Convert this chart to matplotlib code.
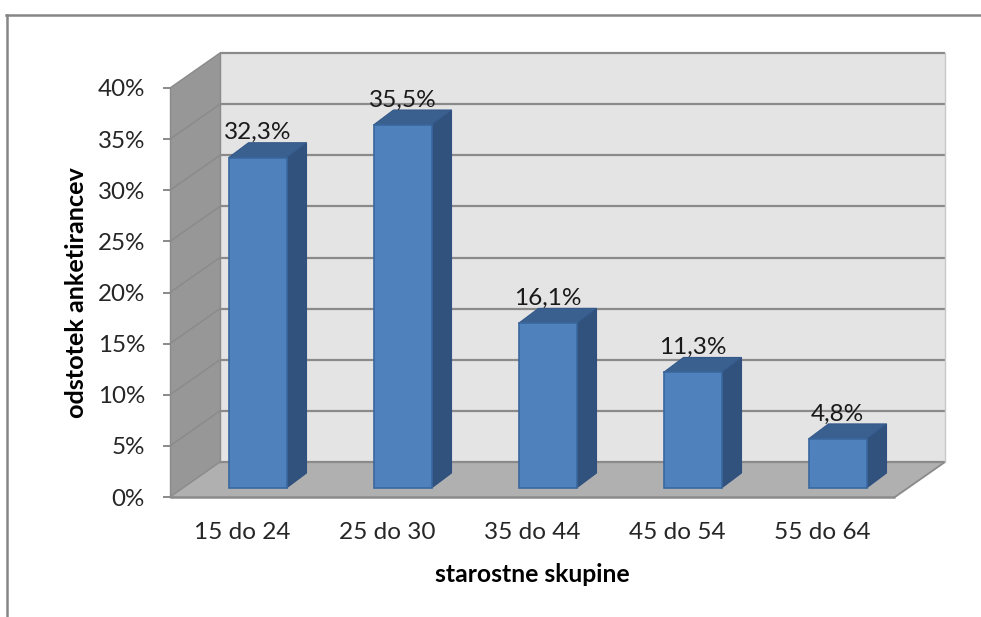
import matplotlib
matplotlib.use("Agg")
import matplotlib.pyplot as plt
from matplotlib.lines import Line2D
from matplotlib.patches import Polygon

categories = ["15 do 24", "25 do 30", "35 do 44", "45 do 54", "55 do 64"]
values = [32.3, 35.5, 16.1, 11.3, 4.8]
value_labels = ["32,3%", "35,5%", "16,1%", "11,3%", "4,8%"]
yticks = [0, 5, 10, 15, 20, 25, 30, 35, 40]

plt.rcParams["font.family"] = ["Lato", "DejaVu Sans"]

W, H = 981, 617
fig = plt.figure(figsize=(W / 100, H / 100), dpi=100, facecolor="white")
ax = fig.add_axes([170 / W, (H - 497) / H, 725 / W, 409 / H])
ax.set_xlim(-0.5, 4.5)
ax.set_ylim(0, 40)
ax.patch.set_visible(False)
for s in ax.spines.values():
    s.set_visible(False)

# depth of the box and of the bars, in data units
px_x = 1 / 145
px_y = 40 / 409
dx = 50 * px_x
dy = 35 * px_y
bar_w = 58 * px_x
bar_dx = 20 * px_x
bar_dy = 15 * px_y
bar_shift = 15 * px_x
floor_y = 9 * px_y

grid_c = "#8a8a8a"
x0, x1 = -0.5, 4.5


def poly(pts, fc, ec="none", lw=0, z=1):
    ax.add_patch(Polygon(pts, closed=True, facecolor=fc, edgecolor=ec, linewidth=lw,
                         zorder=z, clip_on=False))


# back wall, side wall, floor
poly([(x0 + dx, dy), (x1 + dx, dy), (x1 + dx, 40 + dy), (x0 + dx, 40 + dy)], "#e4e4e4")
poly([(x0, 0), (x0 + dx, dy), (x0 + dx, 40 + dy), (x0, 40)], "#979797")
poly([(x0, 0), (x1, 0), (x1 + dx, dy), (x0 + dx, dy)], "#b0b0b0")

# gridlines on the walls
for t in yticks:
    ax.plot([x0 + dx, x1 + dx], [t + dy, t + dy], color=grid_c, lw=1.6, zorder=2,
            clip_on=False, solid_capstyle="butt")
    ax.plot([x0, x0 + dx], [t, t + dy], color=grid_c, lw=1, zorder=2, clip_on=False)
    ax.plot([x0 - 7 * px_x, x0], [t, t], color=grid_c, lw=1.4, zorder=2, clip_on=False,
            solid_capstyle="butt")
ax.plot([x0, x1], [0, 0], color=grid_c, lw=1.8, zorder=2, clip_on=False, solid_capstyle="butt")
ax.plot([x1, x1 + dx], [0, dy], color=grid_c, lw=1.3, zorder=2, clip_on=False)
ax.plot([x0, x0], [0, 40], color=grid_c, lw=1, zorder=2, clip_on=False)
ax.plot([x0 + dx, x0 + dx], [dy, 40 + dy], color=grid_c, lw=1, zorder=2, clip_on=False)
ax.plot([x1 + dx, x1 + dx], [dy, 40 + dy], color="#c8c8c8", lw=1, zorder=2, clip_on=False)

# bars
for i, v in enumerate(values):
    l = i + bar_shift - bar_w / 2
    r = l + bar_w
    b = floor_y
    t = floor_y + v
    poly([(r, b), (r + bar_dx, b + bar_dy), (r + bar_dx, t + bar_dy), (r, t)],
         "#31527c", "#2f5080", 0.8, 3)
    poly([(l, t), (r, t), (r + bar_dx, t + bar_dy), (l + bar_dx, t + bar_dy)],
         "#3a6090", "#34598a", 0.8, 3)
    poly([(l, b), (r, b), (r, t), (l, t)], "#4f81bd", "#3a679e", 1.2, 4)
    ax.text(i + bar_shift, t + bar_dy + 3.5 * px_y, value_labels[i], ha="center", va="baseline",
            fontsize=17.6, color="#1a1a1a", zorder=6)

ax.set_xticks(range(len(categories)))
ax.set_xticklabels(categories, fontsize=17.6, color="#262626")
ax.set_yticks(yticks)
ax.set_yticklabels([f"{t}%" for t in yticks], fontsize=17.4, color="#262626")
ax.tick_params(axis="both", length=0)
ax.tick_params(axis="x", pad=18)
ax.tick_params(axis="y", pad=18)

fig.text(532 / W, 1 - 574 / H, "starostne skupine", ha="center", va="center",
         fontsize=17.8, fontweight="bold", color="black")
fig.text(76 / W, 1 - 293 / H, "odstotek anketirancev", ha="center", va="center",
         rotation=90, fontsize=18.2, fontweight="bold", color="black")

# chart area border, only top and left fall inside the image
fig.add_artist(Line2D([7 / W, 7 / W], [0, 1 - 15 / H], color="#868686", lw=1.8))
fig.add_artist(Line2D([6 / W, 1], [1 - 15 / H, 1 - 15 / H], color="#868686", lw=1.8))

fig.savefig("out.png", dpi=100)
